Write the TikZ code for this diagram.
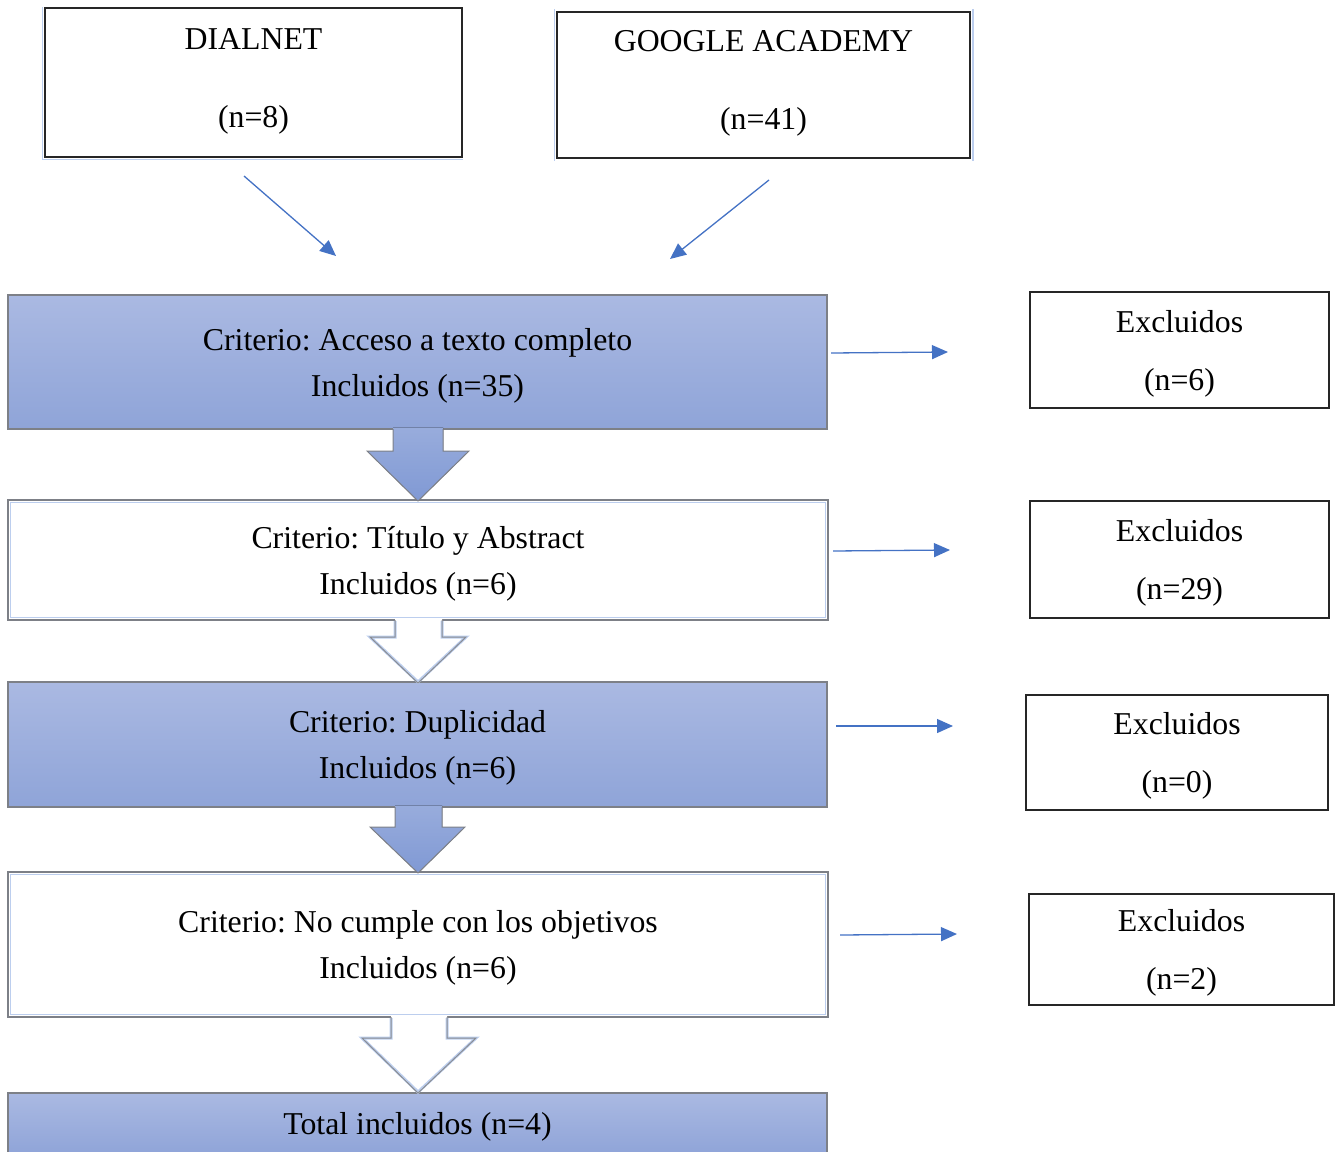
\documentclass[tikz,border=0pt]{standalone}
\usepackage{fontspec}
\setmainfont{Liberation Serif}
\usetikzlibrary{arrows.meta}
\definecolor{arrowblue}{RGB}{68,114,196}
\definecolor{bluetop}{RGB}{170,185,226}
\definecolor{bluebot}{RGB}{143,164,216}
\definecolor{bluemid}{RGB}{152,172,220}
\definecolor{bluetip}{RGB}{128,153,212}
\definecolor{boxgray}{RGB}{125,128,135}
\definecolor{innerblue}{RGB}{188,206,238}
\newcommand{\myTopStrut}{\rule{0pt}{29.6pt}}
\newcommand{\myBotStrut}{\rule[-9.6pt]{0pt}{1pt}}
\begin{document}
\frenchspacing
\begin{tikzpicture}[x=1pt,y=-1pt,
  txt/.style={font=\fontsize{31.8}{46}\selectfont\frenchspacing, align=center, inner sep=0pt, outer sep=0pt},
  bluebox/.style={txt, rectangle, draw=boxgray, line width=1.2pt, top color=bluetop, bottom color=bluebot},
  whitebox/.style={txt, rectangle, draw=boxgray, line width=1.2pt, fill=white},
  exbox/.style={rectangle, draw=black!85, line width=1.5pt, align=center, inner sep=0pt,
     font=\fontsize{31.8}{58}\selectfont},
  srcbox/.style={rectangle, draw=black!85, line width=1.5pt, align=center, inner sep=0pt,
     font=\fontsize{31.8}{78}\selectfont},
  conn/.style={draw=arrowblue, line width=1.3pt, -{Triangle[length=16pt,width=14pt]}},
  bluearrow/.style={top color=bluemid, bottom color=bluetip},
  blueoutline/.style={draw=boxgray, line width=1pt, line join=miter},
  whiteglow/.style={draw=innerblue, line width=3pt, line join=miter},
  whiteoutline/.style={draw=boxgray!90, line width=1pt, line join=miter}
]
\useasboundingbox (0,0) rectangle (1335,1151);

% source boxes
\node[srcbox, minimum width=417pt, minimum height=149pt] (dial) at (253.5,82.5) {DIALNET\\(n=8)\myBotStrut};
\node[srcbox, minimum width=413pt, minimum height=146pt] (goog) at (763.5,85) {GOOGLE ACADEMY\\(n=41)\myBotStrut};
\draw[innerblue, line width=1.5pt] ([xshift=-2pt,yshift=2pt]goog.north west) -- ([xshift=-2pt,yshift=-2pt]goog.south west);
\draw[innerblue, line width=1.5pt] ([xshift=2pt,yshift=2pt]goog.north east) -- ([xshift=2pt,yshift=-2pt]goog.south east);
\draw[innerblue, line width=1.2pt] ([xshift=-2pt]dial.north west) -- ([xshift=-2pt,yshift=-2pt]dial.south west) -- ([yshift=-2pt]dial.south east);

% flow boxes
\node[bluebox, minimum width=819pt, minimum height=134pt] (c1) at (417.5,362) {\myTopStrut Criterio: Acceso a texto completo\\Incluidos (n=35)};
\node[whitebox, minimum width=820pt, minimum height=120pt] (c2) at (418,560) {\myTopStrut Criterio: Título y Abstract\\Incluidos (n=6)};
\node[bluebox, minimum width=819pt, minimum height=125pt] (c3) at (417.5,744.5) {\myTopStrut Criterio: Duplicidad\\Incluidos (n=6)};
\node[whitebox, minimum width=820pt, minimum height=145pt] (c4) at (418,944.5) {\myTopStrut Criterio: No cumple con los objetivos\\Incluidos (n=6)};
\node[bluebox, minimum width=819pt, minimum height=62pt] (c5) at (417.5,1124) {\rule{0pt}{27.6pt}Total incluidos (n=4)};

\draw[innerblue, line width=1.2pt] ([xshift=2.5pt,yshift=2.5pt]c2.south west) rectangle ([xshift=-2.5pt,yshift=-2.5pt]c2.north east);
\draw[innerblue, line width=1.2pt] ([xshift=2.5pt,yshift=2.5pt]c4.south west) rectangle ([xshift=-2.5pt,yshift=-2.5pt]c4.north east);

% excluded boxes
\node[exbox, minimum width=299pt, minimum height=116pt] (e1) at (1179.5,350) {\myTopStrut Excluidos\\(n=6)};
\node[exbox, minimum width=299pt, minimum height=117pt] (e2) at (1179.5,559.5) {\myTopStrut Excluidos\\(n=29)};
\node[exbox, minimum width=302pt, minimum height=115pt] (e3) at (1177,752.5) {\myTopStrut Excluidos\\(n=0)};
\node[exbox, minimum width=305pt, minimum height=111pt] (e4) at (1181.5,949.5) {\myTopStrut Excluidos\\(n=2)};

% block arrows
% 1 (blue)
\fill[bluearrow] (393,427.5) -- (393,451) -- (367,451) -- (418,501) -- (469,451) -- (443,451) -- (443,427.5) -- cycle;
\draw[blueoutline] (393,429) -- (393,451) -- (367,451) -- (418,501) -- (469,451) -- (443,451) -- (443,429);
% 2 (white)
\fill[white] (395,618) -- (395,637) -- (370,637) -- (418,683) -- (466,637) -- (442,637) -- (442,618) -- cycle;
\draw[whiteglow] (395,621) -- (395,637) -- (370,637) -- (418,682) -- (466,637) -- (442,637) -- (442,621);
\draw[whiteoutline] (395,620) -- (395,637) -- (370,637) -- (418,683) -- (466,637) -- (442,637) -- (442,620);
% 3 (blue)
\fill[bluearrow] (395,805.5) -- (395,827) -- (370,827) -- (418,873) -- (465,827) -- (442,827) -- (442,805.5) -- cycle;
\draw[blueoutline] (395,807) -- (395,827) -- (370,827) -- (418,873) -- (465,827) -- (442,827) -- (442,807);
% 4 (white)
\fill[white] (391,1015) -- (391,1038) -- (362,1038) -- (418,1093) -- (476,1038) -- (447,1038) -- (447,1015) -- cycle;
\draw[whiteglow] (391,1018) -- (391,1038) -- (362,1038) -- (418,1092) -- (476,1038) -- (447,1038) -- (447,1018);
\draw[whiteoutline] (391,1017) -- (391,1038) -- (362,1038) -- (418,1093) -- (476,1038) -- (447,1038) -- (447,1017);

% free-floating connectors
\coordinate (d0) at (244,176);
\coordinate (d1) at (336,256);
\coordinate (g0) at (769,180);
\coordinate (g1) at (670,259);
\draw[conn] (d0) -- (d1);
\draw[conn] (g0) -- (g1);

\coordinate (a1s) at (831,353); \coordinate (a1e) at (948,352);
\coordinate (a2s) at (833,551); \coordinate (a2e) at (950,550);
\coordinate (a3s) at (836,726); \coordinate (a3e) at (953,726);
\coordinate (a4s) at (840,935); \coordinate (a4e) at (957,934);
\draw[conn] (a1s) -- (a1e);
\draw[conn] (a2s) -- (a2e);
\draw[conn] (a3s) -- (a3e);
\draw[conn] (a4s) -- (a4e);
\end{tikzpicture}
\end{document}
